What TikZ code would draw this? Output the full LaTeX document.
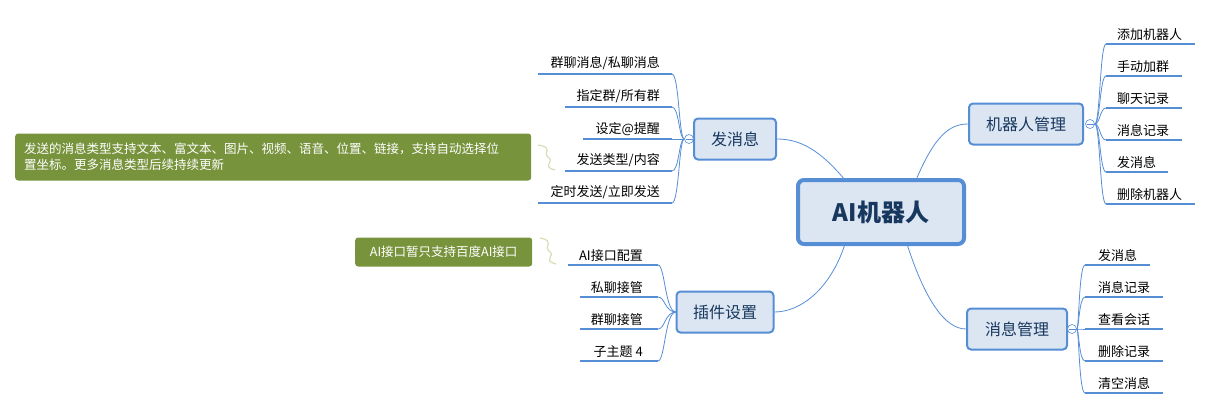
\documentclass[tikz,border=0pt]{standalone}
\usepackage{fontspec}
\setmainfont{Noto Sans CJK SC}
\definecolor{bl}{HTML}{558ED5}
\definecolor{bf}{HTML}{DCE6F2}
\definecolor{dk}{HTML}{17375E}
\definecolor{gn}{HTML}{77933C}
\definecolor{sq}{HTML}{D7DDB5}
\tikzset{
 main/.style={draw=bl,fill=bf,line width=2pt,rounded corners=4pt,minimum height=41pt,text=dk,font=\fontsize{16}{18}\selectfont,inner xsep=8pt},
 leaf/.style={font=\fontsize{13}{14}\selectfont,inner sep=1pt},
 ul/.style={bl,line width=2.6pt},
 con/.style={bl,line width=0.8pt},
 note/.style={fill=gn,text=white,rounded corners=3pt,font=\fontsize{12.5}{16}\selectfont,align=left,inner xsep=9pt},
 cc/.style={draw=bl,fill=white,circle,inner sep=0pt,minimum size=9pt,line width=0.6pt}
}
\begin{document}
\begin{tikzpicture}[x=1pt,y=-1pt]
\useasboundingbox (0,0) rectangle (1212,410);
\node[draw=bl,fill=bf,line width=4pt,rounded corners=6pt,minimum width=166pt,minimum height=64pt,text=dk,font=\fontsize{24}{26}\selectfont\bfseries] (c) at (881,212) {AI机器人};
\node[main,minimum width=82pt] (m1) at (735,139) {发消息};
\node[main,minimum width=114pt] (m2) at (1026,124) {机器人管理};
\node[main,minimum width=97pt] (m3) at (725,312) {插件设置};
\node[main,minimum width=100pt] (m4) at (1017,329) {消息管理};
\draw[con] (845,180) .. controls (820,150) and (800,139) .. (m1.east);
\draw[con] (916,180) .. controls (935,135) and (950,124) .. (m2.west);
\draw[con] (845,244) .. controls (830,290) and (800,312) .. (m3.east);
\draw[con] (907,244) .. controls (925,300) and (945,329) .. (m4.west);
% collapse circles
\node[cc] (k1) at (689,139) {};
\draw[bl,line width=0.6pt] (685.5,139) -- (692.5,139);
\node[cc] (k2) at (1090,124) {};
\draw[bl,line width=0.6pt] (1086.5,124) -- (1093.5,124);
\node[cc] (k4) at (1072,329) {};
\draw[bl,line width=0.6pt] (1068.5,329) -- (1075.5,329);
\coordinate (k3) at (676,312);
% left branch 1
\foreach \t/\y/\a [count=\i] in {{群聊消息/私聊消息}/74/538,{指定群/所有群}/107/565,{设定@提醒}/139/583,{发送类型/内容}/171/565,{定时发送/立即发送}/203/538}{
 \coordinate (a\i) at (\a,\y); \coordinate (b\i) at (672,\y);
 \draw[ul] (a\i) -- (b\i);
 \node[leaf,anchor=south east] (t\i) at (661,\y-2.5) {\t};
 \draw[con] (k1.west) .. controls (679,139) and (679,\y) .. (b\i);
}
% right branch 2
\foreach \t/\y/\e [count=\i] in {添加机器人/44/1195,手动加群/76/1182,聊天记录/108/1182,消息记录/140/1182,发消息/172/1168,删除机器人/204/1195}{
 \coordinate (c\i) at (1106,\y); \coordinate (d\i) at (\e,\y);
 \draw[ul] (c\i) -- (d\i);
 \node[leaf,anchor=south west] (u\i) at (1116,\y-2.5) {\t};
 \draw[con] (k2.east) .. controls (1100,124) and (1100,\y) .. (c\i);
}
% branch 3
\foreach \t/\y/\a [count=\i] in {AI接口配置/265/568,私聊接管/297/580,群聊接管/329/580,子主题 4/361/580}{
 \coordinate (e\i) at (\a,\y); \coordinate (f\i) at (658,\y);
 \draw[ul] (e\i) -- (f\i);
 \node[leaf,anchor=south east] (v\i) at (644,\y-2.5) {\t};
 \draw[con] (k3) .. controls (665,312) and (665,\y) .. (f\i);
}
\draw[con] (m3.west) -- (k3);
% branch 4
\foreach \t/\y/\e [count=\i] in {发消息/265/1150,消息记录/297/1163,查看会话/329/1163,删除记录/361/1163,清空消息/393/1163}{
 \coordinate (g\i) at (1085,\y); \coordinate (h\i) at (\e,\y);
 \draw[ul] (g\i) -- (h\i);
 \node[leaf,anchor=south west] (w\i) at (1097,\y-2.5) {\t};
 \draw[con] (k4.east) .. controls (1079,329) and (1079,\y) .. (g\i);
}
% notes
\node[note,minimum height=47pt,text width=498pt,anchor=west] (n1) at (15,157) {发送的消息类型支持文本、富文本、图片、视频、语音、位置、链接，支持自动选择位\\置坐标。更多消息类型后续持续更新};
\node[note,minimum height=29pt,minimum width=177pt,anchor=west] (n2) at (355,252) {AI接口暂只支持百度AI接口};
\draw[sq,line width=1.2pt] (538,145) .. controls (555,148) and (542,152) .. (548,157) .. controls (556,162) and (540,166) .. (555,170);
\draw[sq,line width=1.2pt] (540,238) .. controls (556,241) and (543,246) .. (549,251) .. controls (557,256) and (541,260) .. (556,264);
\end{tikzpicture}
\end{document}
